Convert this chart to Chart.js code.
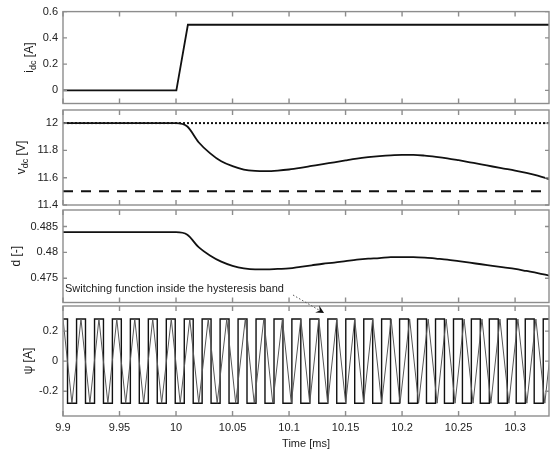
<!DOCTYPE html>
<html>
<head>
<meta charset="utf-8">
<script src="https://cdn.jsdelivr.net/npm/chart.js@4.4.1/dist/chart.umd.min.js"></script>
<style>
    html, body { margin: 0; padding: 0; background: #fff; }
    #wrap { position: relative; width: 550px; height: 455px; }
    #wrap canvas { position: absolute; left: 0; top: 0; }
</style>
</head>
<body>
<div id="wrap">
    <canvas id="chart-idc" width="550" height="455"></canvas>
    <canvas id="chart-vdc" width="550" height="455"></canvas>
    <canvas id="chart-d" width="550" height="455"></canvas>
    <canvas id="chart-psi" width="550" height="455"></canvas>
</div>
<script>
// axis ranges / ticks
const tMin = 9.9;
const tMax = 10.33;
const timeTicks = [9.9, 9.95, 10, 10.05, 10.1, 10.15, 10.2, 10.25, 10.3];
const iTicks = [0, 0.2, 0.4, 0.6];
const vTicks = [11.4, 11.6, 11.8, 12];
const dTicks = [0.475, 0.48, 0.485];
const psiTicks = [-0.2, 0, 0.2];

// i_dc step
const iTime = [9.9, 10.0003, 10.0105, 10.33];
const iDc = [0, 0, 0.5, 0.5];

// slow curves (v_dc and duty)
const curveTime = [
    9.90, 9.91, 9.92, 9.93, 9.94, 9.95, 9.96, 9.97, 9.98, 9.99,
    10.00, 10.01, 10.02, 10.03, 10.04, 10.05, 10.06, 10.07, 10.08, 10.09,
    10.10, 10.11, 10.12, 10.13, 10.14, 10.15, 10.16, 10.17, 10.18, 10.19,
    10.20, 10.21, 10.22, 10.23, 10.24, 10.25, 10.26, 10.27, 10.28, 10.29,
    10.30, 10.31, 10.32, 10.33
];
const vDc = [
    12, 12, 12, 12, 12, 12, 12, 12, 12, 12,
    12, 11.975, 11.86, 11.78, 11.72, 11.685, 11.66, 11.65, 11.648, 11.652,
    11.66, 11.672, 11.686, 11.70, 11.713, 11.727, 11.74, 11.75, 11.758, 11.764,
    11.767, 11.767, 11.762, 11.753, 11.742, 11.728, 11.713, 11.698, 11.682, 11.667,
    11.652, 11.635, 11.615, 11.59
];
const duty = [
    0.4839, 0.4839, 0.4839, 0.4839, 0.4839, 0.4839, 0.4839, 0.4839, 0.4839, 0.4839,
    0.4839, 0.4834, 0.4810, 0.4794, 0.4782, 0.4774, 0.4769, 0.4767, 0.4767, 0.4768,
    0.4769, 0.4772, 0.4775, 0.4778, 0.4780, 0.4783, 0.4786, 0.4788, 0.4789, 0.4791,
    0.4791, 0.4791, 0.4790, 0.4788, 0.4786, 0.4783, 0.4780, 0.4777, 0.4774, 0.4771,
    0.4768, 0.4764, 0.4760, 0.4755
];
const vRef = 12;
const vLow = 11.5;

// switching function (square) and the current inside the band (triangle)
const psiBand = 0.28;
const psiRise = [
    9.8961, 9.9120, 9.9279, 9.9437, 9.9596, 9.9755, 9.9914, 10.0073, 10.0231, 10.0390,
    10.0549, 10.0708, 10.0867, 10.1025, 10.1184, 10.1343, 10.1502, 10.1661, 10.1819, 10.1978,
    10.2137, 10.2296, 10.2455, 10.2613, 10.2772, 10.2931, 10.3090, 10.3249
];
const psiFall = [
    9.9040, 9.9199, 9.9358, 9.9516, 9.9675, 9.9834, 9.9993, 10.0152, 10.0310, 10.0469,
    10.0628, 10.0787, 10.0946, 10.1104, 10.1263, 10.1422, 10.1581, 10.1740, 10.1898, 10.2057,
    10.2216, 10.2375, 10.2534, 10.2692, 10.2851, 10.3010, 10.3169, 10.3328
];
const triTop = [
    9.9000, 9.9159, 9.9318, 9.9476, 9.9635, 9.9794, 9.9958, 10.0122, 10.0285, 10.0449,
    10.0613, 10.0777, 10.0941, 10.1104, 10.1263, 10.1422, 10.1581, 10.1740, 10.1903, 10.2067,
    10.2231, 10.2390, 10.2549, 10.2707, 10.2866, 10.3025, 10.3184, 10.3343
];
const triBottom = [
    9.8921, 9.9079, 9.9238, 9.9397, 9.9555, 9.9714, 9.9873, 10.0037, 10.0201, 10.0364,
    10.0528, 10.0692, 10.0856, 10.1020, 10.1183, 10.1342, 10.1501, 10.1660, 10.1819, 10.1982,
    10.2146, 10.2310, 10.2469, 10.2628, 10.2786, 10.2945, 10.3104, 10.3263, 10.3422
];

const FONT = '"Liberation Sans", Arial, Helvetica, sans-serif';
Chart.defaults.font.family = FONT;

const pts = (xs, ys) => xs.map((t, i) => ({ x: t, y: ys[i] }));

const squarePts = [];
psiRise.forEach((t, k) => {
    squarePts.push(
        { x: t, y: -psiBand },
        { x: t, y: psiBand },
        { x: psiFall[k], y: psiBand },
        { x: psiFall[k], y: -psiBand }
    );
});
const trianglePts = [{ x: triBottom[0], y: -psiBand }];
triTop.forEach((t, k) => {
    trianglePts.push({ x: t, y: psiBand }, { x: triBottom[k + 1], y: -psiBand });
});

// box + inward ticks, matlab style
const framePlugin = {
    id: "frame",
    afterDatasetsDraw(chart, args, opts) {
        const { ctx, chartArea: a, scales: { x, y } } = chart;
        ctx.save();
        ctx.strokeStyle = "#8d8d8d";
        ctx.lineWidth = 1.4;
        ctx.beginPath();
        timeTicks.forEach((t) => {
            const px = x.getPixelForValue(t);
            ctx.moveTo(px, a.top); ctx.lineTo(px, a.top + 5);
            ctx.moveTo(px, a.bottom); ctx.lineTo(px, a.bottom - 5);
        });
        opts.ticks.forEach((v) => {
            const py = y.getPixelForValue(v);
            ctx.moveTo(a.left, py); ctx.lineTo(a.left + 4, py);
            ctx.moveTo(a.right, py); ctx.lineTo(a.right - 4, py);
        });
        ctx.stroke();
        ctx.strokeRect(a.left, a.top, a.right - a.left, a.bottom - a.top);
        ctx.restore();
    },
};

// rotated y label with subscript
const yTitlePlugin = {
    id: "ytitle",
    afterDraw(chart, args, o) {
        const { ctx, chartArea: a } = chart;
        const big = "12px " + FONT;
        const small = "9px " + FONT;
        ctx.save();
        ctx.translate(o.x, (a.top + a.bottom) / 2);
        ctx.rotate(-Math.PI / 2);
        ctx.fillStyle = "#1a1a1a";
        ctx.textBaseline = "middle";
        ctx.textAlign = "left";
        ctx.font = big;
        const w1 = ctx.measureText(o.main).width;
        const w3 = ctx.measureText(o.rest).width;
        ctx.font = small;
        const w2 = o.sub ? ctx.measureText(o.sub).width : 0;
        let px = -(w1 + w2 + w3) / 2;
        ctx.font = big;
        ctx.fillText(o.main, px, 0);
        px += w1;
        if (o.sub) {
            ctx.font = small;
            ctx.fillText(o.sub, px, 4);
            px += w2;
        }
        ctx.font = big;
        ctx.fillText(o.rest, px, 0);
        ctx.restore();
    },
};

// text + dotted arrow pointing into the last panel
const notePlugin = {
    id: "note",
    afterDraw(chart, args, o) {
        const { ctx, chartArea: a, scales: { x } } = chart;
        ctx.save();
        ctx.font = "11px " + FONT;
        ctx.fillStyle = "#1a1a1a";
        ctx.textBaseline = "middle";
        ctx.textAlign = "left";
        ctx.fillText(o.text, a.left + 2, a.top - 17);

        const x0 = 293, y0 = a.top - 11;
        const x1 = x.getPixelForValue(o.at), y1 = a.top + 7;
        const ang = Math.atan2(y1 - y0, x1 - x0);
        ctx.strokeStyle = "#555";
        ctx.lineWidth = 1;
        ctx.setLineDash([1.5, 2]);
        ctx.beginPath();
        ctx.moveTo(x0, y0);
        ctx.lineTo(x1 - 5 * Math.cos(ang), y1 - 5 * Math.sin(ang));
        ctx.stroke();
        ctx.setLineDash([]);
        ctx.translate(x1, y1);
        ctx.rotate(ang);
        ctx.fillStyle = "#111";
        ctx.beginPath();
        ctx.moveTo(0, 0);
        ctx.lineTo(-8, -4);
        ctx.lineTo(-5, 0);
        ctx.lineTo(-8, 4);
        ctx.closePath();
        ctx.fill();
        ctx.restore();
    },
};

function makePanel(id, cfg) {
    const yTickSet = (s) => { s.ticks = cfg.yTicks.map((v) => ({ value: v })); };
    return new Chart(document.getElementById(id), {
        type: "line",
        data: { datasets: cfg.datasets },
        options: {
            responsive: false,
            animation: false,
            events: [],
            layout: { padding: { top: cfg.top, bottom: cfg.bottom, left: 0, right: 1 } },
            plugins: {
                legend: { display: false },
                tooltip: { enabled: false },
                frame: { ticks: cfg.yTicks },
                ytitle: cfg.title,
                note: cfg.note || {},
            },
            scales: {
                x: {
                    type: "linear",
                    min: tMin,
                    max: tMax,
                    display: !!cfg.showX,
                    afterBuildTicks: (s) => { s.ticks = timeTicks.map((v) => ({ value: v })); },
                    afterFit: (s) => { if (cfg.showX) s.height = 39; },
                    grid: { display: false, drawTicks: false },
                    border: { display: false },
                    ticks: {
                        padding: 5,
                        maxRotation: 0,
                        autoSkip: false,
                        color: "#222",
                        font: { size: 11 },
                        callback: (v) => String(+v.toFixed(2)),
                    },
                    title: {
                        display: true,
                        text: "Time [ms]",
                        color: "#222",
                        font: { size: 11 },
                        padding: { top: 0, bottom: 4.4 },
                    },
                },
                y: {
                    min: cfg.yMin,
                    max: cfg.yMax,
                    afterBuildTicks: yTickSet,
                    afterFit: (s) => { s.width = 63; },
                    grid: { display: false, drawTicks: false },
                    border: { display: false },
                    ticks: {
                        padding: 5,
                        color: "#222",
                        font: { size: 11 },
                        callback: (v) => String(+v.toFixed(3)),
                    },
                },
            },
        },
        plugins: cfg.note ? [framePlugin, yTitlePlugin, notePlugin] : [framePlugin, yTitlePlugin],
    });
}

const lineStyle = { borderColor: "#111", pointRadius: 0, fill: false };

makePanel("chart-idc", {
    top: 10, bottom: 351.5, yMin: -0.1, yMax: 0.6, yTicks: iTicks,
    title: { x: 30, main: "i", sub: "dc", rest: " [A]" },
    datasets: [{ ...lineStyle, data: pts(iTime, iDc), borderWidth: 1.8, tension: 0 }],
});

makePanel("chart-vdc", {
    top: 110, bottom: 250, yMin: 11.4, yMax: 12.096, yTicks: vTicks,
    title: { x: 22, main: "v", sub: "dc", rest: " [V]" },
    datasets: [
        { ...lineStyle, data: pts([tMin, tMax], [vRef, vRef]), borderWidth: 2, borderDash: [2, 2] },
        { ...lineStyle, data: pts([tMin, tMax], [vLow, vLow]), borderWidth: 2, borderDash: [10, 8] },
        { ...lineStyle, data: pts(curveTime, vDc), borderWidth: 1.8, cubicInterpolationMode: "monotone" },
    ],
});

makePanel("chart-d", {
    top: 210, bottom: 152.5, yMin: 0.4703, yMax: 0.4882, yTicks: dTicks,
    title: { x: 17, main: "d [-]", sub: "", rest: "" },
    datasets: [{ ...lineStyle, data: pts(curveTime, duty), borderWidth: 1.8, cubicInterpolationMode: "monotone" }],
});

makePanel("chart-psi", {
    top: 306, bottom: 0, yMin: -0.365, yMax: 0.367, yTicks: psiTicks, showX: true,
    title: { x: 29, main: "\u03c8 [A]", sub: "", rest: "" },
    note: { text: "Switching function inside the hysteresis band", at: 10.131 },
    datasets: [
        { ...lineStyle, data: trianglePts, borderColor: "#555", borderWidth: 1, tension: 0 },
        { ...lineStyle, data: squarePts, borderWidth: 1.4, tension: 0 },
    ],
});
</script>
</body>
</html>
